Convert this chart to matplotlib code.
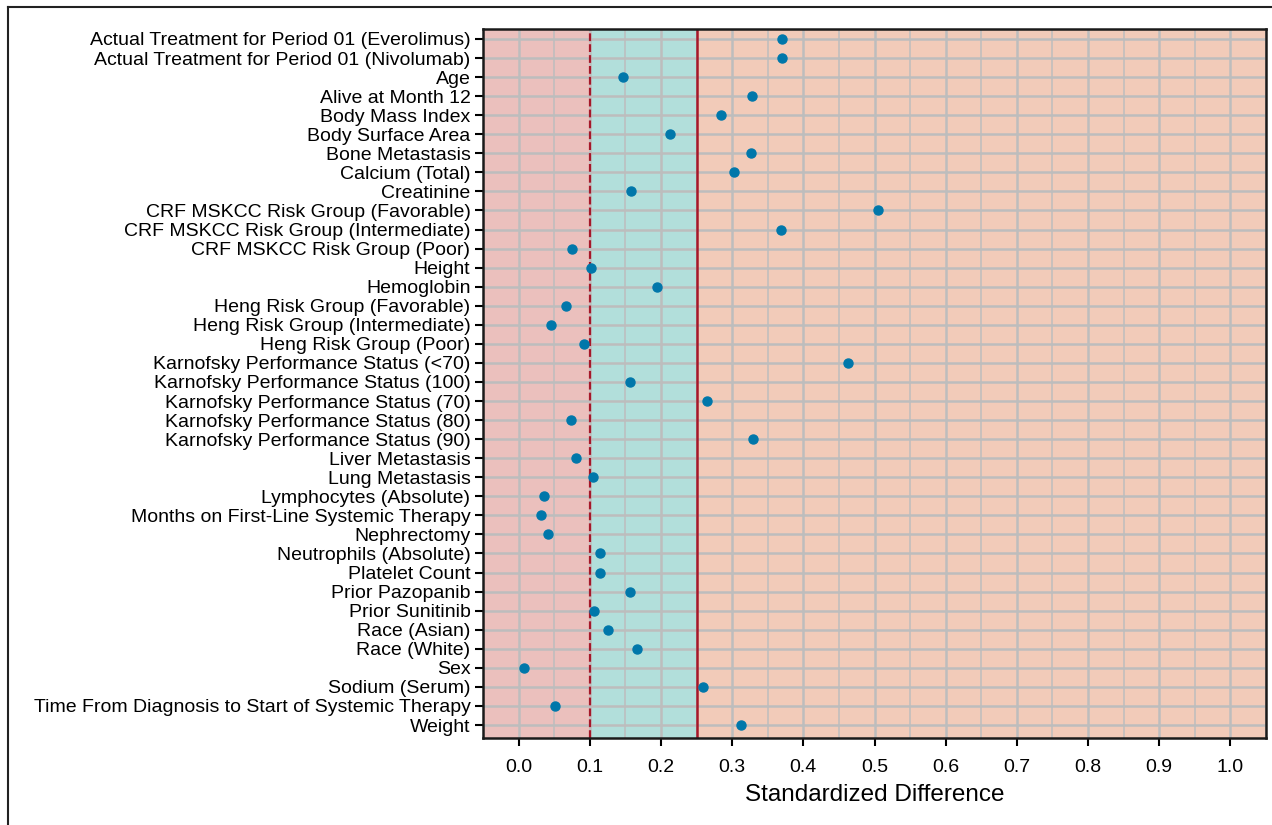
import numpy as np
import matplotlib
matplotlib.use('Agg')
import matplotlib.pyplot as plt
from matplotlib.lines import Line2D
from matplotlib.ticker import MultipleLocator

#Covariate names, top to bottom
covariates = [
    'Actual Treatment for Period 01 (Everolimus)',
    'Actual Treatment for Period 01 (Nivolumab)',
    'Age',
    'Alive at Month 12',
    'Body Mass Index',
    'Body Surface Area',
    'Bone Metastasis',
    'Calcium (Total)',
    'Creatinine',
    'CRF MSKCC Risk Group (Favorable)',
    'CRF MSKCC Risk Group (Intermediate)',
    'CRF MSKCC Risk Group (Poor)',
    'Height',
    'Hemoglobin',
    'Heng Risk Group (Favorable)',
    'Heng Risk Group (Intermediate)',
    'Heng Risk Group (Poor)',
    'Karnofsky Performance Status (<70)',
    'Karnofsky Performance Status (100)',
    'Karnofsky Performance Status (70)',
    'Karnofsky Performance Status (80)',
    'Karnofsky Performance Status (90)',
    'Liver Metastasis',
    'Lung Metastasis',
    'Lymphocytes (Absolute)',
    'Months on First-Line Systemic Therapy',
    'Nephrectomy',
    'Neutrophils (Absolute)',
    'Platelet Count',
    'Prior Pazopanib',
    'Prior Sunitinib',
    'Race (Asian)',
    'Race (White)',
    'Sex',
    'Sodium (Serum)',
    'Time From Diagnosis to Start of Systemic Therapy',
    'Weight',
]

#Standardized difference
std_diff = [0.370, 0.370, 0.147, 0.328, 0.285, 0.213, 0.326, 0.302, 0.158,
            0.505, 0.368, 0.075, 0.102, 0.195, 0.066, 0.045, 0.092, 0.463,
            0.156, 0.265, 0.074, 0.330, 0.080, 0.105, 0.036, 0.031, 0.042,
            0.115, 0.115, 0.156, 0.106, 0.126, 0.166, 0.008, 0.259, 0.051,
            0.313]

#Threshold lines
small_cut = 0.1
large_cut = 0.25
x_ticks = [0.0, 0.1, 0.2, 0.3, 0.4, 0.5, 0.6, 0.7, 0.8, 0.9, 1.0]

plt.rcParams['font.family'] = ['Liberation Sans', 'DejaVu Sans']

fig = plt.figure(figsize=(12.72, 8.25), dpi=100)
ax = fig.add_axes([0.3797, 0.1055, 0.6156, 0.8593])

xmin, xmax = -0.05, 1.05
ypos = np.arange(len(covariates))

#Shaded bands
ax.axvspan(xmin, small_cut, color='#ebc0bd', zorder=0)
ax.axvspan(small_cut, large_cut, color='#b2dfdb', zorder=0)
ax.axvspan(large_cut, xmax, color='#f2cbb9', zorder=0)

#Grid
ax.xaxis.set_major_locator(MultipleLocator(0.1))
ax.xaxis.set_minor_locator(MultipleLocator(0.05))
ax.grid(which='major', axis='x', color='#bdbdbd', linewidth=1.8, zorder=1)
ax.grid(which='minor', axis='x', color='#bdbdbd', linewidth=1.1, zorder=1)
ax.grid(which='major', axis='y', color='#bdbdbd', linewidth=1.8, zorder=1)
ax.set_axisbelow(True)

#Reference lines
ax.axvline(small_cut, color='#a5182a', linewidth=1.6, linestyle=(0, (3.5, 1.4)), zorder=2)
ax.axvline(large_cut, color='#a5182a', linewidth=1.8, zorder=2)

#Points
ax.plot(std_diff, ypos, 'o', color='#0077aa', markersize=6.5, zorder=3)

ax.set_xlim(xmin, xmax)
ax.set_ylim(len(covariates) - 1 + 0.68, -0.52)
ax.set_xticks(x_ticks)
ax.set_xticklabels(['%.1f' % t for t in x_ticks], fontsize=14)
ax.set_yticks(ypos)
ax.set_yticklabels(covariates, fontsize=14)
ax.tick_params(axis='x', which='minor', length=0)
ax.tick_params(axis='both', which='major', direction='out', length=6, width=1.5, color='black')
ax.tick_params(axis='x', pad=9)
ax.tick_params(axis='y', pad=3)

for s in ax.spines.values():
    s.set_linewidth(1.8)
    s.set_color('#1a1a1a')

ax.set_xlabel('Standardized Difference', fontsize=17.5, labelpad=6)

#Outer frame (top and left only)
fig.add_artist(Line2D([0.0063, 0.0063], [0, 0.9915], transform=fig.transFigure, color='#222222', linewidth=1.5))
fig.add_artist(Line2D([0.0063, 1.0], [0.9915, 0.9915], transform=fig.transFigure, color='#222222', linewidth=1.5))

fig.savefig('out.png', dpi=100)
